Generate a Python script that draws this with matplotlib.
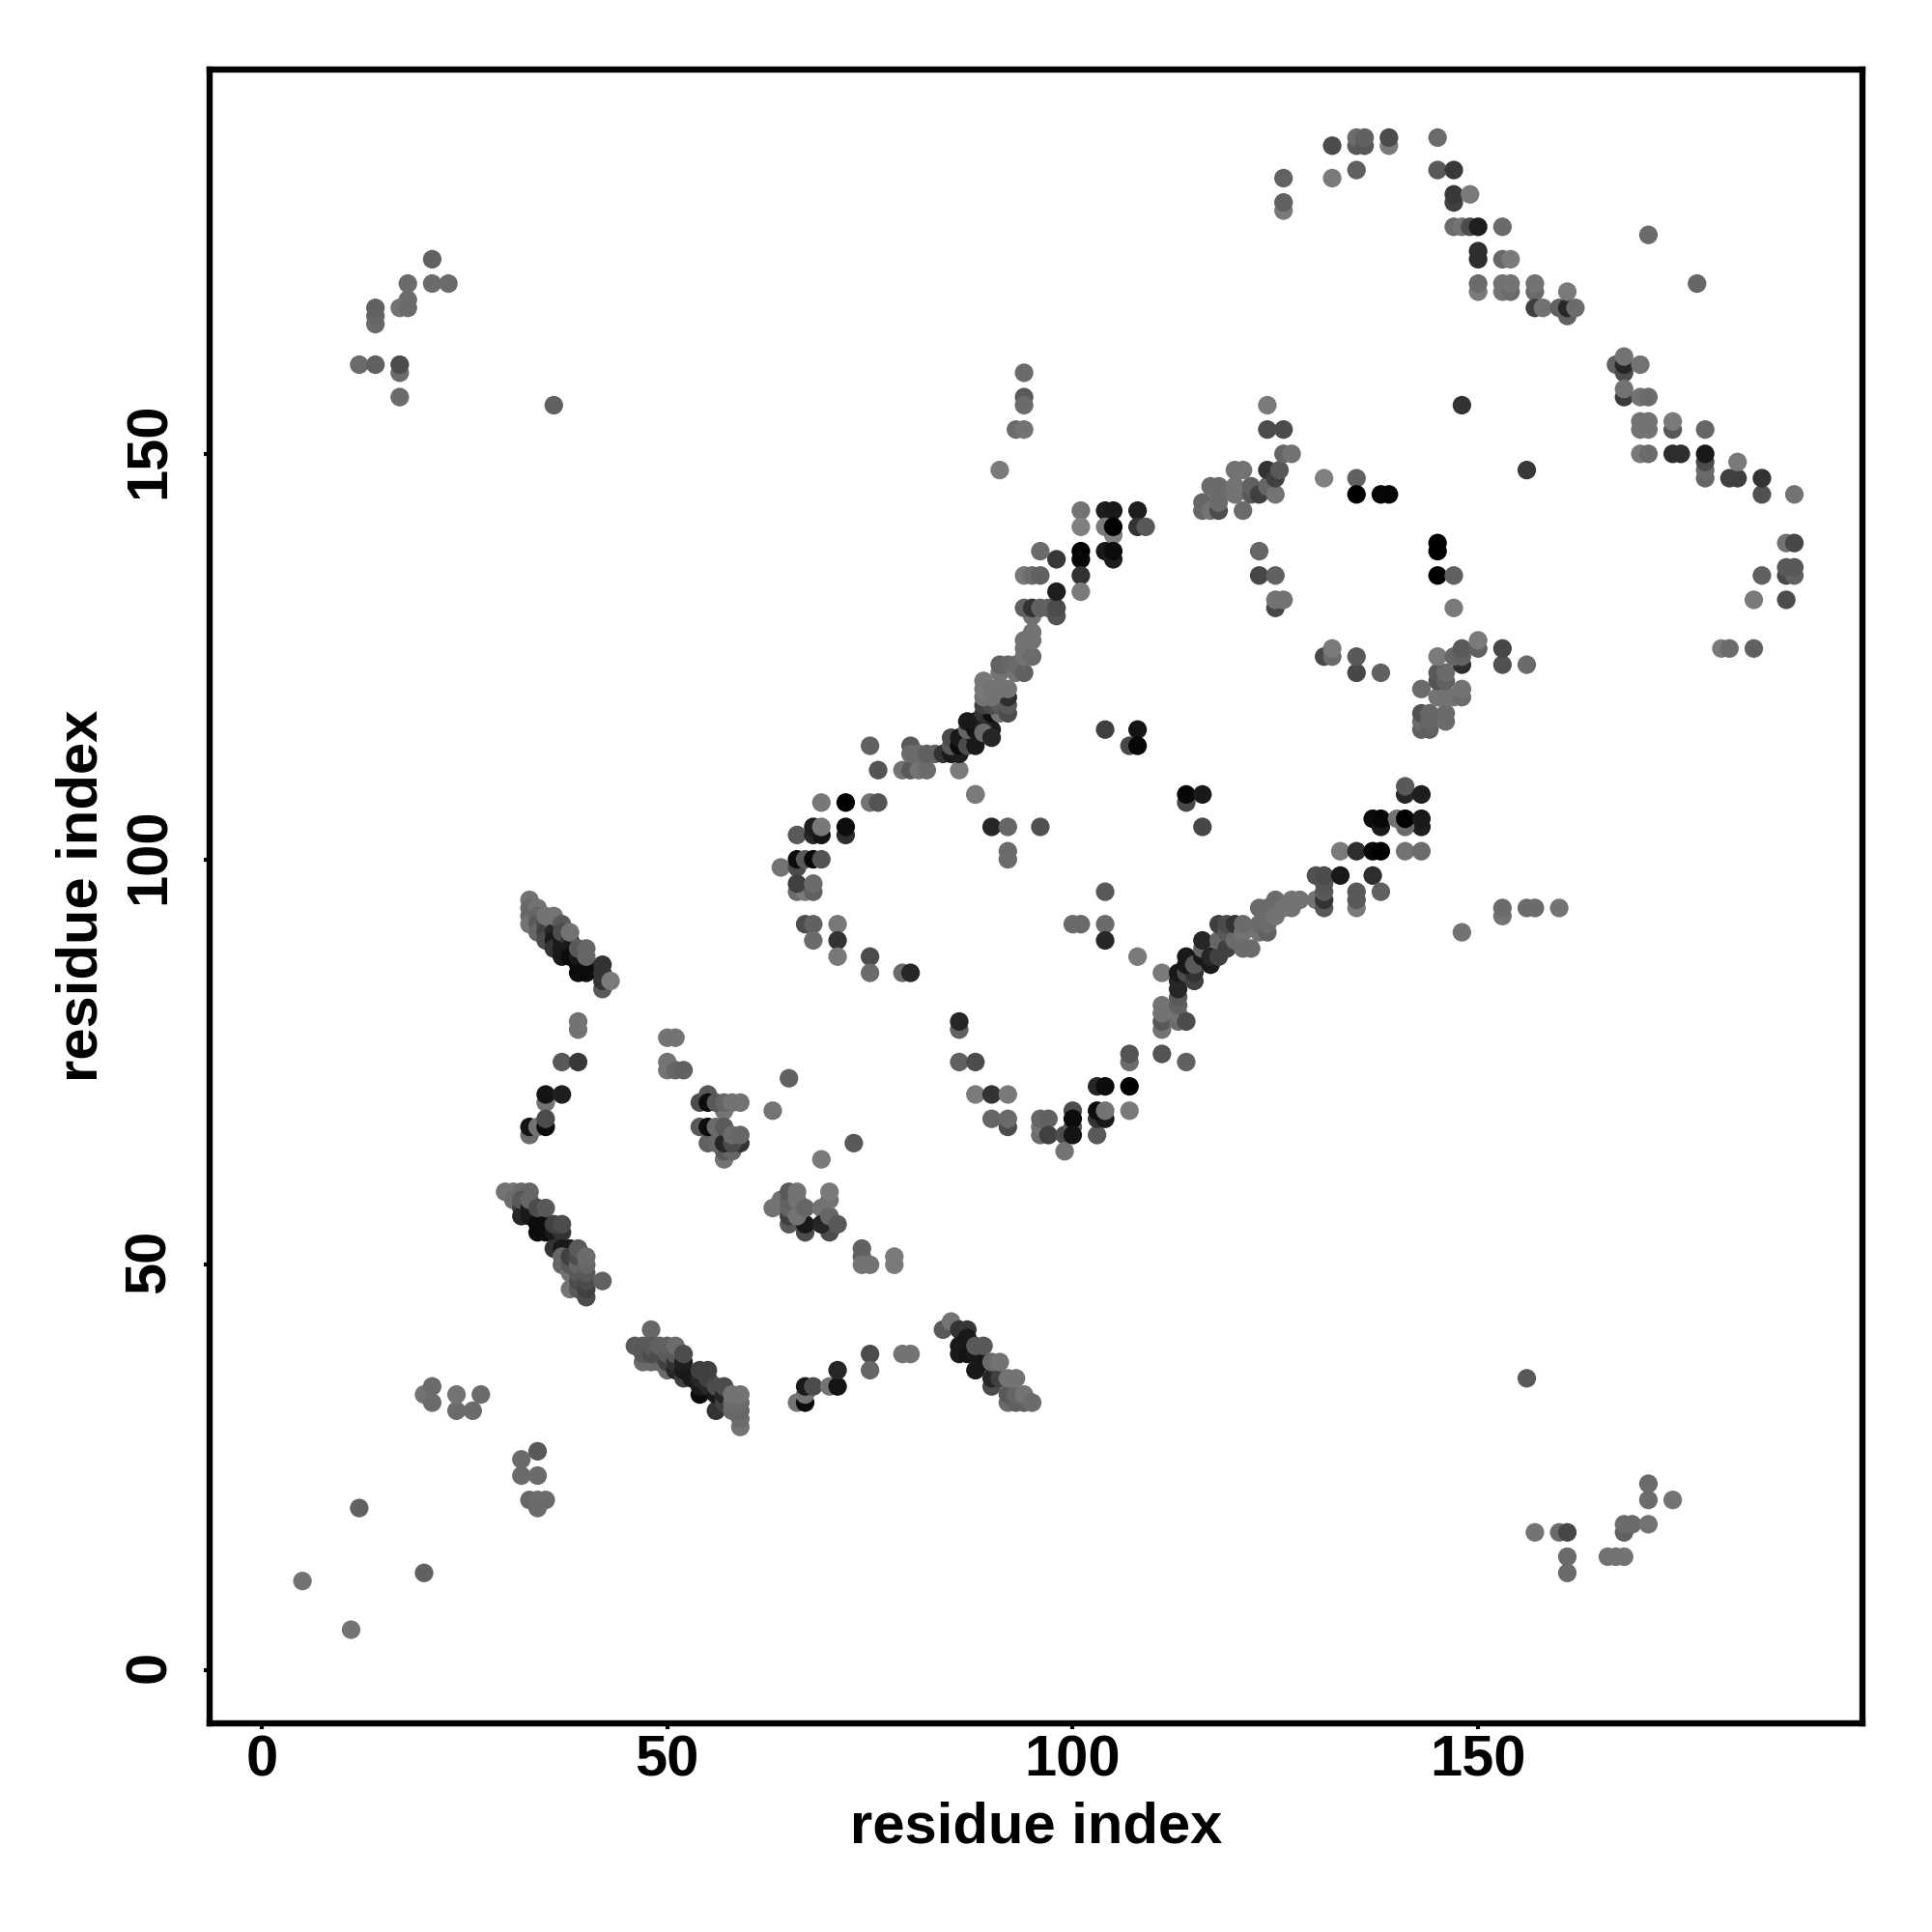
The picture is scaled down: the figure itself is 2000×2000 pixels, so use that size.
import matplotlib
matplotlib.use("Agg")
import matplotlib.pyplot as plt
from matplotlib.transforms import ScaledTranslation
import numpy as np

# Each entry: residue index x, residue index y, contact shade (0 = black)
strand_a = [(33,95,.45),(33,94,.42),(33,93,.4),(33,92,.45),(34,94,.45),(34,93,.4),(34,92,.35),(34,91,.4),
    (35,92,.3),(35,91,.25),(35,90,.3),(36,92,.4),(36,91,.15),(36,90,.1),(36,89,.2),(35,93,.45),(36,93,.45),
    (37,90,.1),(37,89,.1),(37,88,.1),(37,92,.35),(37,91,.3),(38,90,.2),(38,89,.1),(38,88,.05),(38,91,.45),
    (39,87,.05),(39,86,.05),(39,88,.1),(40,87,.05),(40,86,.05),(39,89,.35),(40,89,.4),(40,88,.4),
    (42,84,.35),(42,85,.2),(42,86,.2),(42,87,.2),(43,85,.48)]
strand_a_side = [(39,80,.45),(39,79,.45),(37,75,.35),(39,75,.22),(35,70,.45),(35,71,.08),(37,71,.12),
    (33,66,.42),(33,67,.08),(34,67,.45),(35,67,.05),(35,68,.3)]
patch_b = [(50,78,.45),(51,78,.45),(50,75,.45),(50,74,.45),(51,74,.4),(52,74,.38)]
patch_c = [(57,69,.45),(54,70,.3),(55,71,.35),(55,70,.05),(56,70,.35),(57,70,.4),(58,70,.45),(59,70,.45),
    (57,63,.45),(57,64,.35),(58,64,.4),(55,65,.38),(56,65,.4),(54,67,.35),(55,67,.05),(57,65,.15),
    (59,65,.2),(58,65,.3),(56,67,.42),(57,67,.35),(58,66,.42),(59,66,.4)]
singles_mid = [(65,73,.38),(63,69,.45),(73,65,.35),(69,63,.48)]
patch_d = [(63,57,.45),(64,58,.45),(65,55,.35),(65,56,.25),(65,57,.4),(65,58,.38),(65,59,.35),(67,54,.3),
    (67,55,.1),(66,56,.45),(66,58,.45),(66,59,.45),(67,57,.4),(69,57,.45),(70,54,.3),(69,55,.15),(70,56,.4),
    (71,55,.35),(70,58,.45),(70,59,.48),(74,52,.38),(74,51,.38),(74,50,.45),(75,50,.45),(78,51,.48),(78,50,.48)]
strand_e = [(30,59,.45),(31,59,.45),(32,59,.42),(33,59,.4),(31,58,.42),(32,57,.25),(32,56,.15),(32,58,.35),
    (33,57,.1),(33,56,.1),(33,58,.4),(34,56,.1),(34,55,.05),(34,54,.05),(35,55,.05),(35,54,.05),
    (34,57,.3),(35,57,.35),(36,54,.1),(37,54,.2),(36,55,.25),(37,55,.3),(36,52,.2),(37,52,.1),(38,52,.1),
    (37,50,.4),(37,51,.4),(38,47,.45),(38,49,.45),(38,50,.35),(38,51,.25),(39,47,.35),(39,48,.3),(39,49,.35),
    (39,50,.4),(39,51,.3),(39,52,.35),(40,46,.3),(40,47,.25),(40,48,.3),(40,49,.35),(40,50,.4),(40,51,.42),
    (42,48,.38)]
strand_f = [(48,42,.4),(47,38,.42),(48,38,.42),(49,38,.4),(50,37,.42),(46,40,.35),(47,39,.35),(47,40,.35),
    (48,39,.3),(48,40,.35),(49,39,.3),(49,40,.38),(50,38,.25),(50,39,.35),(50,40,.38),(51,37,.15),(51,38,.2),
    (51,39,.35),(51,40,.42),(52,36,.25),(52,37,.1),(52,38,.12),(52,39,.3),(53,36,.1),(54,34,.05),(54,35,.1),
    (54,36,.15),(54,37,.25),(55,35,.15),(55,36,.25),(55,37,.25),(56,32,.2),(56,34,.1),(56,35,.3),(57,33,.25),
    (57,34,.15),(57,35,.3),(59,30,.45),(59,31,.42),(58,32,.4),(59,32,.4),(58,33,.42),(59,33,.42),(58,34,.45),(59,34,.45)]
arc_g = [(66,33,.45),(67,33,.05),(67,34,.45),(67,35,.1),(68,35,.3),(70,35,.45),(71,35,.08),(71,37,.15),
    (75,39,.3),(75,37,.4),(79,39,.45),(80,39,.45)]
strand_h = [(84,42,.35),(85,43,.45),(86,42,.2),(87,42,.22),(86,40,.1),(86,39,.1),(87,39,.08),(87,41,.1),
    (88,37,.1),(88,39,.1),(89,38,.1),(90,35,.3),(90,36,.15),(88,40,.35),(89,40,.35),(91,36,.25),(90,38,.42),
    (91,38,.45),(92,33,.42),(93,33,.38),(94,33,.38),(92,34,.35),(93,34,.4),(92,36,.45),(93,36,.45),(94,34,.45),(95,33,.42)]
loop_left = [(75,114,.38),(76,111,.33),(69,107,.47),(72,107,.0),(75,107,.45),(76,107,.33),(66,103,.35),
    (68,103,.15),(69,103,.08),(68,104,.12),(69,104,.47),(72,103,.18),(72,104,.05),(64,99,.45),(66,99,.3),
    (66,100,.05),(67,100,.35),(68,100,.03),(69,100,.33),(66,96,.42),(67,96,.48),(66,97,.25),(68,96,.38),(68,97,.42),
    (67,92,.3),(68,92,.38),(71,92,.47),(68,90,.42),(71,90,.2),(71,88,.47),(75,88,.3),(75,86,.42),(79,86,.42),(80,86,.15)]
loop_bridge = [(79,111,.45),(80,111,.35),(81,111,.45),(82,111,.42),(80,114,.35),(80,113,.42),(81,113,.42),
    (82,113,.38),(83,113,.38),(86,111,.48),(88,108,.45)]
strand_i = [(84,113,.2),(85,113,.1),(86,113,.12),(85,114,.35),(85,115,.3),(86,114,.05),(86,115,.1),(87,114,.3),
    (88,114,.1),(88,115,.1),(87,116,.4),(87,117,.1),(88,116,.08),(88,117,.1),(90,116,.12),(89,116,.15),
    (89,115.6,.42),(89,118,.2),(90,118,.05),(91,118,.45),(89,119,.25),(90,119,.3),(91,119,.35),(92,118,.3),
    (92,119,.35),(92,120,.18),(89,120,.45),(90,120,.45),(89,121,.47),(89,122,.47),(90,121,.45),(91,121,.45),
    (92,121,.45),(91,123,.45),(91,124,.38),(92,124,.4),(93,123,.45),(93,124,.42),(94,123,.38),(94,125,.45),
    (94,126,.45),(94,127,.45),(95,125,.42),(95,127,.45),(95,128,.45),(95,130,.45)]
strand_i_top = [(94,131,.38),(95,131,.2),(96,131,.38),(97,131,.38),(98,130,.33),(98,131,.3),(94,135,.47),
    (95,135,.42),(96,135,.38),(96,138,.42),(98,137,.22),(98,133,.12)]
column_top = [(101,143,.45),(101,141,.5),(101,138,.0),(101,137,.03),(101,135,.2),(101,133,.48),(104,143,.12),
    (105,143,.1),(108,143,.12),(105,140,.5),(104,141,.48),(105,141,.0),(108,141,.2),(109,141,.35),
    (104,138,.1),(105,137,.12),(105,138,.05)]
center_pts = [(90,115,.15),(104,116,.25),(108,116,.08),(107,114,.28),(108,114,.03),(114,107,.28),(114,108,.03),
    (116,108,.1),(116,104,.28),(90,104,.15),(92,104,.4),(96,104,.32),(92,101,.42),(92,100,.42),(88,108,.48),
    (104,96,.35),(100,92,.42),(101,92,.42),(104,92,.42),(104,90,.15),(108,88,.48),(111,86,.48)]
loop_bottom = [(86,79,.38),(86,80,.15),(86,75,.38),(88,75,.3),(88,71,.48),(90,71,.2),(92,71,.48),(90,68,.4),
    (92,67,.3),(92,68,.42),(96,66,.42),(96,67,.45),(96,68,.4),(97,68,.38),(97,66,.25),(99,66,.3),(99,64,.45),
    (100,69,.3),(100,67,.35),(100,68,.05),(100,66,.08),(103,72,.15),(104,72,.05),(107,72,.0),(103,66,.35),
    (103,68,.2),(104,68,.1),(103,69,.05),(104,69,.45),(107,69,.48),(107,75,.42),(107,76,.33),(111,76,.33),(114,75,.38)]
strand_j = [(111,79,.45),(111,80,.35),(111,81,.45),(111,82,.45),(113,80,.42),(113,81,.45),(113,82,.38),(113,83,.35),
    (114,80,.3),(113,84,.15),(113,85,.15),(113,86,.1),(114,86,.3),(115,85,.25),(115,86,.2),(114,87,.1),
    (114,88,.1),(115,87,.35),(116,88,.1),(117,87,.1),(116,89,.4),(117,88,.15),(116,90,.15),(118,88,.25),(118,90,.4),
    (119,89,.25),(118,92,.25),(119,91,.35),(119,92,.3),(120,90,.42),(120,92,.2),(121,91,.45),(121,89,.42),
    (122,89,.42),(121,92,.42),(123,91,.45),(123,92,.42),(124,91,.38),(124,92,.42),(123,94,.42),(124,94,.42),
    (125,93,.45),(125,95,.42),(126,94,.45),(127,94,.45),(127,95,.45),(128,95,.45),(130,95,.45)]
right_bars = [(130,98,.32),(131,94,.35),(131,95,.2),(131,96,.35),(131,97,.33),(131,98,.3),(133,98,.1),(133,101,.48),
    (135,94,.48),(135,95,.35),(135,96,.35),(135,101,.18),(137,98,.18),(137,101,.03),(138,101,.0),(138,96,.38),
    (137,105,.05),(138,104,.1),(138,105,.03),(141,101,.45),(143,101,.42),(143,104,.12),(141,104,.42),(140,105,.45),
    (141,105,.0),(143,105,.1),(141,108,.15),(141,109,.35),(143,108,.12)]
patch_k = [(143,116,.38),(143,117,.42),(143,118,.32),(144,116,.38),(144,117,.4),(144,118,.4),(146,117,.42),
    (146,118,.42),(143,121,.42),(145,120,.45),(146,120,.45),(147,120,.45),(148,120,.42),(148,121,.45),
    (145,122,.33),(145,123,.35),(146,122,.38),(146,123,.42),(145,125,.48),(148,124,.18),(147,125,.4),(148,125,.38),
    (148,126,.35),(150,126,.38),(150,127,.48),(153,124,.32),(153,126,.28),(156,124,.42)]
patch_l = [(131,125,.28),(132,125,.42),(132,126,.48),(135,123,.28),(135,125,.35),(138,123,.38),(145,135,.0),
    (145,138,.0),(145,139,.0),(147,135,.38),(147,131,.48),(123,138,.4),(123,135,.28),(125,135,.38),(125,131,.28),
    (125,132,.45),(126,132,.45)]
patch_m = [(116,143,.4),(116,144,.4),(117,143,.45),(117,146,.42),(118,143,.3),(118,144,.42),(118,145,.42),
    (118,146,.42),(120,145,.45),(120,146,.45),(120,148,.45),(121,148,.45),(121,143,.42),(122,145,.35),(122,146,.38),
    (123,145,.25),(124,146,.4),(125,145,.45),(124,148,.2),(125,147,.25),(125.5,148,.35),(126,150,.4),(127,150,.45),
    (124,153,.3),(126,153,.3),(124,156,.48),(131,147,.5),(135,147,.38),(135,145,.0),(138,145,.03),(139,145,.03),
    (156,148,.22),(148,156,.2)]
top_arc = [(126,184,.38),(126,180,.48),(126,181,.38),(132,188,.3),(132,184,.48),(135,188,.35),(135,189,.42),
    (136,188,.35),(136,189,.38),(135,185,.38),(139,188,.48),(139,189,.3),(145,189,.42),(145,185,.35),(147,185,.22),
    (147,181,.25),(147,182,.22),(149,182,.48),(147,178,.42),(148,178,.45),(149,178,.3),(150,178,.12),(153,178,.42),
    (150,174,.18),(150,175,.18),(153,174,.4),(154,174,.48),(150,170,.48),(150,171,.42),(153,170,.45),(153,171,.45),
    (154,170,.42),(154,171,.45),(157,170,.42),(157,171,.45),(157,168,.25),(158,168,.45),(160,168,.38),(161,167,.38),
    (161,168,.15),(161,170,.48),(162,168,.42),(171,177,.42),(177,171,.4)]
right_arc = [(167,161,.38),(168,160,.3),(168,161,.15),(168,162,.45),(170,161,.45),(168,157,.22),(168,158,.45),
    (170,157,.45),(171,157,.42),(170,153,.45),(170,154,.45),(171,153,.45),(171,154,.45),(174,153,.35),(174,154,.48),
    (178,153,.4),(170,150,.48),(171,150,.42),(174,150,.18),(175,150,.18),(178,147,.4),(178,148,.42),(178,149,.3),
    (178,150,.1),(181,147,.25),(182,147,.25),(182,149,.48),(185,145,.32),(185,147,.2),(189,145,.45)]
right_edge = [(188,139,.45),(189,139,.28),(185,135,.38),(188,135,.28),(189,135,.38),(188,136,.35),(189,136,.35),
    (184,132,.48),(188,132,.3),(180,126,.48),(181,126,.42),(184,126,.38)]
lower_right = [(148,91,.45),(153,93,.45),(153,94,.42),(156,94,.42),(157,94,.42),(160,94,.45),(156,36,.35),
    (157,17,.45),(160,17,.42),(161,17,.28),(161,14,.42),(161,12,.42),(166,14,.45),(167,14,.45),(168,14,.45),
    (168,17,.38),(168,18,.42),(169,18,.42),(171,18,.45),(171,21,.42),(171,23,.42),(174,21,.45)]
lower_left = [(5,11,.45),(11,5,.45),(12,20,.38),(20,12,.38),(20,34,.45),(21,33,.42),(21,35,.42),(24,32,.42),
    (24,34,.45),(26,32,.42),(27,34,.42),(32,26,.42),(32,24,.42),(34,27,.35),(34,24,.42),(34,20,.42),(33,21,.4),
    (34,21,.42),(35,21,.42)]
upper_left = [(21,174,.38),(21,171,.42),(23,171,.42),(18,171,.42),(18,169,.42),(17,168,.45),(18,168,.42),
    (14,166,.42),(14,167,.4),(14,168,.38),(12,161,.42),(14,161,.38),(17,160,.42),(17,161,.3),(17,157,.42),(36,156,.38)]
upper_mid = [(94,160,.42),(94,157,.35),(94,156,.42),(93,153,.42),(94,153,.45),(91,148,.48)]

clusters = [strand_a, strand_a_side, patch_b, patch_c, singles_mid, patch_d, strand_e, strand_f, arc_g, strand_h,
            loop_left, loop_bridge, strand_i, strand_i_top, column_top, center_pts, loop_bottom, strand_j,
            right_bars, patch_k, patch_l, patch_m, top_arc, right_arc, right_edge, lower_right, lower_left,
            upper_left, upper_mid]

tick_values = [0, 50, 100, 150]
axis_title = "residue index"

W = 2000.0
plt.rcParams["font.family"] = ["Liberation Sans", "DejaVu Sans"]
plt.rcParams["font.weight"] = "bold"
fig = plt.figure(figsize=(20, 20), dpi=100, facecolor="white")
left, right, top, bottom = 217.0, 1928.0, 71.5, 1784.0
ax = fig.add_axes([left / W, 1 - bottom / W, (right - left) / W, (bottom - top) / W])

for cluster in clusters:
    arr = np.array(cluster, dtype=float)
    ax.scatter(arr[:, 0], arr[:, 1], c=arr[:, 2], cmap="gray", vmin=0, vmax=1, s=192, linewidths=0, zorder=3)

ax.set_xlim(-6.45, 197.4)
ax.set_ylim(-6.55, 197.45)
ax.set_xticks(tick_values)
ax.set_yticks(tick_values)
ax.set_xticklabels([str(t) for t in tick_values], fontsize=43, fontweight="bold")
ax.set_yticklabels([str(t) for t in tick_values], fontsize=43, fontweight="bold", rotation=90, va="center")
ax.tick_params(axis="x", length=4.5, width=3, pad=4, color="black")
ax.tick_params(axis="y", length=4.5, width=3, pad=20, color="black")
shift_up = ScaledTranslation(0, 2.5 / 72, fig.dpi_scale_trans)
for lab in ax.get_yticklabels():
    lab.set_transform(lab.get_transform() + shift_up)
for s in ax.spines.values():
    s.set_linewidth(4.6)
    s.set_color("black")
ax.set_xlabel(axis_title, fontsize=43, fontweight="bold", labelpad=10)
ax.set_ylabel(axis_title, fontsize=43, fontweight="bold", labelpad=11)
fig.savefig("out.png", dpi=100, facecolor="white")
